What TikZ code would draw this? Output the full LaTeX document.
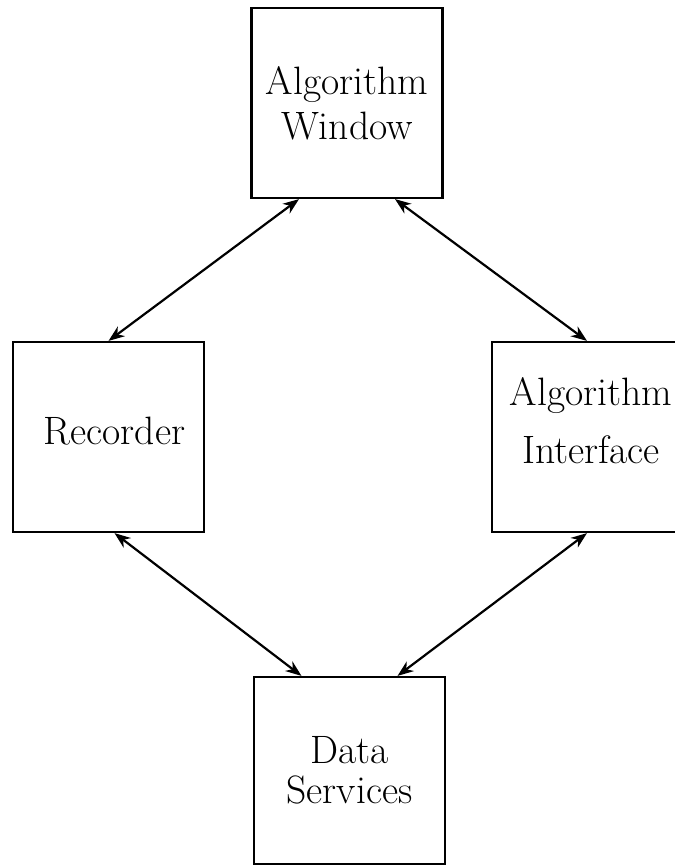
\documentclass[tikz,border=0pt]{standalone}
\usepackage{tikz}
\usetikzlibrary{arrows.meta,positioning}

\begin{document}
\begin{tikzpicture}
		[x=0.5pt,y=-0.5pt,on grid,
		box/.style={draw,line width=1.1pt,minimum width=95.5pt,minimum height=95pt,
			inner sep=0pt,align=center,font=\fontsize{19.8}{22}\selectfont},
		link/.style={<->,line width=1.1pt,>={Stealth[length=8pt,width=6pt,inset=2.5pt]}}]
		\useasboundingbox (0,0) rectangle (674,866);
		\node[box] (win) at (347,103) {Algorithm\\[0.5pt]Window};
		\node[box,text depth=6.7pt] (rec) [below left=167pt and 119.25pt of win] {\hspace*{6pt}Recorder};
		\node[box,minimum width=99pt,text depth=16.8pt] (intf) [below right=167pt and 122pt of win] {Algorithm\\[7pt]Interface};
		\node[box,minimum height=93.5pt] (data) [below right=333.75pt and 1.25pt of win] {Data\\[-2pt]Services};
		\path[link]
		([xshift=-24pt]win.south) 	edge (rec.north)
		([xshift=24pt]win.south) 	edge ([xshift=-2pt]intf.north)
		([xshift=3pt]rec.south) 	edge ([xshift=-24pt]data.north)
		([xshift=-2pt]intf.south) 	edge ([xshift=24pt]data.north)
		;
		\end{tikzpicture}
\end{document}
